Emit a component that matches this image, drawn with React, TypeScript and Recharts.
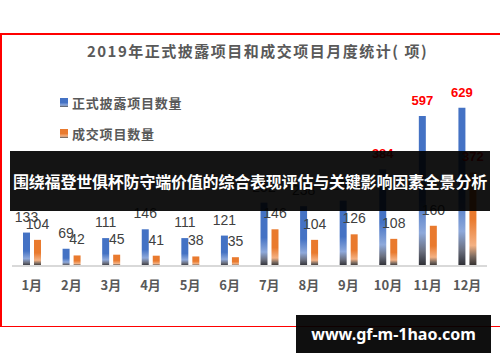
import React from 'react'
import { BarChart, Bar, XAxis, YAxis, LabelList } from 'recharts'

const months = ['1月', '2月', '3月', '4月', '5月', '6月', '7月', '8月', '9月', '10月', '11月', '12月']
const disclosed = [133, 69, 111, 146, 111, 121, 252, 238, 260, 384, 597, 629]
const traded = [104, 42, 45, 41, 38, 35, 146, 104, 126, 108, 160, 372]

const data = months.map((m, i) => ({ month: m, disclosed: disclosed[i], traded: traded[i] }))

const series = [
  { key: 'disclosed', name: '正式披露项目数量', fill: 'url(#gBlue)', swatch: 'linear-gradient(#4472C4 50%, #8EA9DB 80%, #555 100%)' },
  { key: 'traded', name: '成交项目数量', fill: 'url(#gOrange)', swatch: 'linear-gradient(#E97A2E 50%, #F4B183 80%, #555 100%)' },
]

const CJK = '"Noto Sans CJK SC", sans-serif'
const GRAY = '#595959'

function ValueLabel(props: any) {
  const { x, y, width, value } = props
  const hot = value > 300
  return (
    <text
      x={x + width / 2}
      y={y - 11}
      textAnchor="middle"
      fontFamily='"Liberation Sans", Arial, sans-serif'
      fontSize={hot ? 13 : 14}
      fontWeight={hot ? 700 : 400}
      fill={hot ? '#ff0000' : '#404040'}
    >
      {value}
    </text>
  )
}

export default function App() {
  return (
    <div style={{ position: 'absolute', left: 0, top: 0, width: 500, height: 362, background: '#fff', overflow: 'hidden' }}>
      <div
        style={{
          position: 'absolute',
          left: 0,
          top: 33,
          width: 520,
          height: 294,
          boxSizing: 'border-box',
          borderTop: '2px solid #ff0000',
          borderLeft: '2px solid #ff0000',
          borderBottom: '1px solid #ff0000',
        }}
      />
      <div
        style={{
          position: 'absolute',
          left: 0,
          top: 40,
          width: 515,
          textAlign: 'center',
          fontFamily: CJK,
          fontWeight: 700,
          fontSize: 15,
          letterSpacing: 1.5,
          color: GRAY,
        }}
      >
        2019年正式披露项目和成交项目月度统计( 项)
      </div>
      <div style={{ position: 'absolute', left: 60, top: 87 }}>
        {series.map((s) => (
          <div
            key={s.key}
            style={{ display: 'flex', alignItems: 'center', height: 31, fontFamily: CJK, fontWeight: 700, fontSize: 13, color: GRAY, letterSpacing: 0.8 }}
          >
            <span style={{ display: 'inline-block', width: 8, height: 9, marginRight: 4, background: s.swatch }} />
            {s.name}
          </div>
        ))}
      </div>
      <div style={{ position: 'absolute', left: 0, top: 0 }}>
        <BarChart width={500} height={362} data={data} margin={{ top: 90, right: 13, left: 12, bottom: 0 }} barSize={7} barGap={4}>
          <defs>
            <linearGradient id="gBlue" x1="0" y1="0" x2="0" y2="1">
              <stop offset="0" stopColor="#4472C4" />
              <stop offset="0.55" stopColor="#4472C4" />
              <stop offset="0.78" stopColor="#8EA9DB" />
              <stop offset="0.9" stopColor="#6b7080" />
              <stop offset="1" stopColor="#2b2b30" />
            </linearGradient>
            <linearGradient id="gOrange" x1="0" y1="0" x2="0" y2="1">
              <stop offset="0" stopColor="#E97A2E" />
              <stop offset="0.5" stopColor="#E97A2E" />
              <stop offset="0.78" stopColor="#F4B183" />
              <stop offset="0.9" stopColor="#7a6a60" />
              <stop offset="1" stopColor="#2e2b2b" />
            </linearGradient>
          </defs>
          <XAxis
            dataKey="month"
            height={96}
            tickLine={false}
            axisLine={{ stroke: '#d9d9d9', strokeWidth: 2 }}
            tickMargin={9}
            tick={{ fill: GRAY, fontSize: 13, fontWeight: 700, fontFamily: CJK }}
            interval={0}
          />
          <YAxis hide domain={[0, 700]} />
          {series.map((s) => (
            <Bar key={s.key} dataKey={s.key} name={s.name} fill={s.fill} isAnimationActive={false}>
              <LabelList dataKey={s.key} content={ValueLabel} />
            </Bar>
          ))}
        </BarChart>
      </div>
      <div
        style={{
          position: 'absolute',
          left: 10,
          top: 151,
          width: 480,
          height: 60,
          background: 'rgba(0,0,0,0.92)',
          color: '#fff',
          display: 'flex',
          alignItems: 'center',
          justifyContent: 'center',
          whiteSpace: 'nowrap',
          fontFamily: CJK,
          fontWeight: 700,
          fontSize: 16,
          letterSpacing: -0.2,
        }}
      >
        围绕福登世俱杯防守端价值的综合表现评估与关键影响因素全景分析
      </div>
      <div
        style={{
          position: 'absolute',
          left: 296,
          top: 315,
          width: 195,
          height: 38,
          background: 'rgba(0,0,0,0.94)',
          color: '#fff',
          display: 'flex',
          alignItems: 'center',
          justifyContent: 'center',
          fontFamily: '"Noto Sans", sans-serif',
          fontWeight: 700,
          fontSize: 16,
        }}
      >
        www.gf-m-1hao.com
      </div>
    </div>
  )
}
